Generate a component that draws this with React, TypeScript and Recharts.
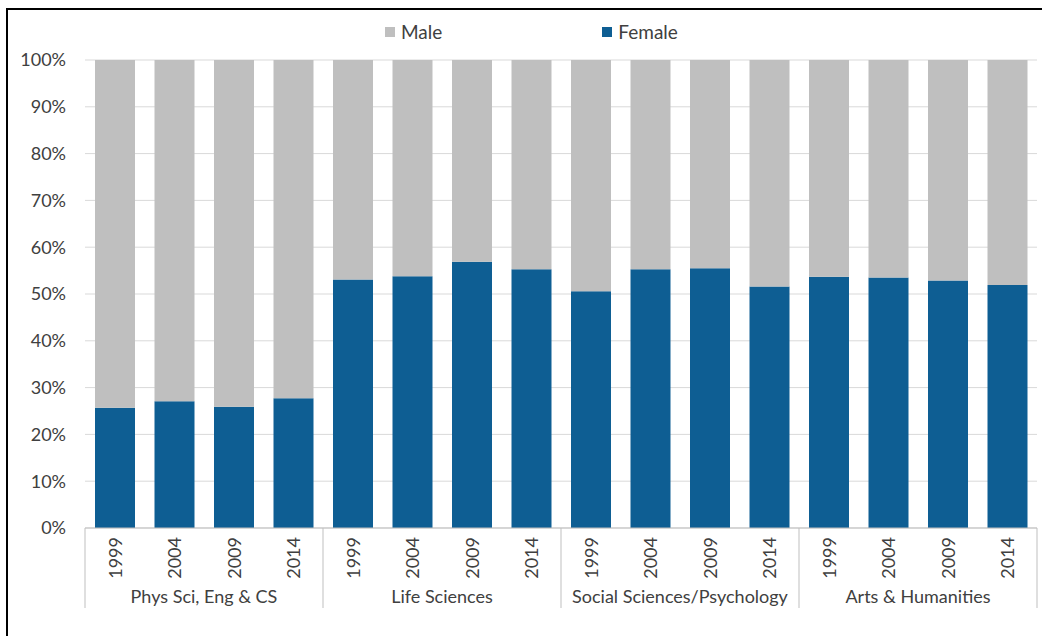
import React from "react";
import { BarChart, Bar, XAxis, YAxis, CartesianGrid } from "recharts";

const groups = [
  "Phys Sci, Eng & CS",
  "Life Sciences",
  "Social Sciences/Psychology",
  "Arts & Humanities",
];
const years = ["1999", "2004", "2009", "2014"];

// share of women, one row per field, one value per year
const femaleShare = [
  [25.7, 27.1, 25.9, 27.7],
  [53.1, 53.8, 56.9, 55.3],
  [50.6, 55.3, 55.5, 51.6],
  [53.7, 53.5, 52.9, 51.9],
];

const yTicks = [0, 10, 20, 30, 40, 50, 60, 70, 80, 90, 100];

const series = [
  { key: "male", name: "Male", color: "#BFBFBF" },
  { key: "female", name: "Female", color: "#0E5E93" },
];

const data = groups.flatMap((group, gi) =>
  years.map((year, yi) => ({
    key: `${gi}-${year}`,
    group,
    year,
    female: femaleShare[gi][yi],
    male: Math.round((100 - femaleShare[gi][yi]) * 10) / 10,
  }))
);

const FONT = "Lato, 'Noto Sans', sans-serif";
const TEXT = "#404040";
const AXIS = "#BFBFBF";

function YearGroupTick(props: any) {
  const { x, y, index, width, visibleTicksCount } = props;
  const row = data[index];
  if (!row) return null;
  const band =
    width && visibleTicksCount ? width / visibleTicksCount : 59.5;
  const per = years.length;
  const first = index % per === 0;
  const left = x - band / 2;
  const right = x + band / 2;
  const groupCenter = left + (band * per) / 2;

  return (
    <g>
      <text
        x={x}
        y={y + 9}
        transform={`rotate(-90, ${x}, ${y + 9})`}
        textAnchor="end"
        dominantBaseline="central"
        fontSize={18}
        fontFamily={FONT}
        fill={TEXT}
      >
        {row.year}
      </text>
      {first && (
        <>
          <line x1={left} x2={left} y1={y} y2={y + 80} stroke={AXIS} />
          <text
            x={groupCenter}
            y={y + 68}
            textAnchor="middle"
            dominantBaseline="central"
            fontSize={18}
            fontFamily={FONT}
            fill={TEXT}
          >
            {row.group}
          </text>
        </>
      )}
      {index === data.length - 1 && (
        <line x1={right} x2={right} y1={y} y2={y + 80} stroke={AXIS} />
      )}
    </g>
  );
}

function ChartLegend() {
  return (
    <div
      style={{
        position: "absolute",
        top: 20,
        left: 385,
        display: "flex",
        gap: 160,
        fontFamily: FONT,
        fontSize: 19,
        color: TEXT,
      }}
    >
      {series.map((s) => (
        <div key={s.key} style={{ display: "flex", alignItems: "center" }}>
          <span
            style={{
              display: "inline-block",
              width: 10,
              height: 10,
              background: s.color,
              marginRight: 6,
            }}
          />
          <span>{s.name}</span>
        </div>
      ))}
    </div>
  );
}

export default function App() {
  return (
    <div
      style={{
        position: "relative",
        width: 1042,
        height: 636,
        overflow: "hidden",
        background: "#fff",
      }}
    >
      <style>{`body{margin:0}`}</style>
      <div
        style={{
          position: "absolute",
          left: 6,
          top: 8,
          width: 1060,
          height: 660,
          border: "2px solid #000",
          boxSizing: "border-box",
        }}
      />
      <ChartLegend />
      <div style={{ position: "absolute", left: 0, top: 0 }}>
        <BarChart
          width={1042}
          height={636}
          data={data}
          margin={{ top: 60, right: 5, left: 0, bottom: 0 }}
          barSize={40}
        >
          <CartesianGrid vertical={false} stroke="#D9D9D9" />
          <XAxis
            dataKey="key"
            height={108}
            interval={0}
            tickSize={0}
            tickMargin={0}
            axisLine={{ stroke: AXIS }}
            tickLine={false}
            tick={<YearGroupTick />}
          />
          <YAxis
            width={85}
            domain={[0, 100]}
            ticks={yTicks}
            tickFormatter={(v: number) => `${v}%`}
            axisLine={false}
            tickLine={false}
            tickSize={0}
            tickMargin={19}
            tick={{ fontSize: 18, fontFamily: FONT, fill: TEXT }}
          />
          <Bar
            dataKey="female"
            name="Female"
            stackId="share"
            fill={series[1].color}
            isAnimationActive={false}
          />
          <Bar
            dataKey="male"
            name="Male"
            stackId="share"
            fill={series[0].color}
            isAnimationActive={false}
          />
        </BarChart>
      </div>
    </div>
  );
}
